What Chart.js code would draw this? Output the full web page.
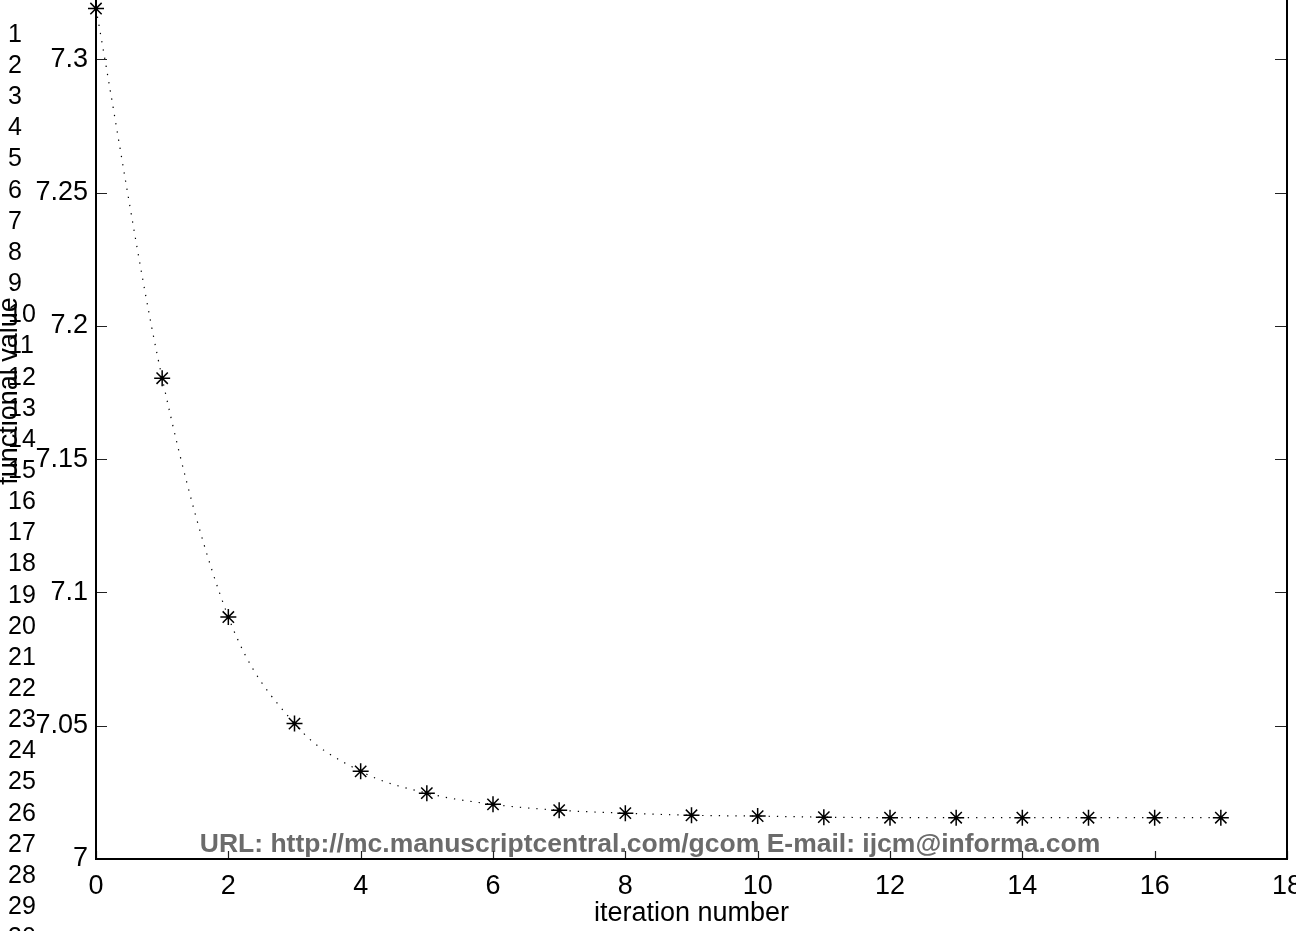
<!DOCTYPE html>
<html>
<head>
<meta charset="utf-8">
<script src="https://cdn.jsdelivr.net/npm/chart.js@4.4.1/dist/chart.umd.min.js"></script>
<style>
  html, body { margin: 0; padding: 0; background: #fff; overflow: hidden; width: 1296px; height: 931px; }
  #wrap { position: absolute; left: 0; top: -98px; }
  canvas { display: block; }
</style>
</head>
<body>
<div id="wrap"><canvas id="c" width="1330" height="1029"></canvas></div>
<script>
// ---- data ----
const iterations = [0, 1, 2, 3, 4, 5, 6, 7, 8, 9, 10, 11, 12, 13, 14, 15, 16, 17];
const functionalValues = [7.3191, 7.1804, 7.0908, 7.0508, 7.0329, 7.0247, 7.0205, 7.0183, 7.0172,
                          7.0164, 7.0161, 7.0157, 7.0155, 7.0155, 7.0155, 7.0155, 7.0155, 7.0155];
const yTickValues = [7, 7.05, 7.1, 7.15, 7.2, 7.25, 7.3];
const yTickLabels = ['7', '7.05', '7.1', '7.15', '7.2', '7.25', '7.3'];
const xTickValues = [0, 2, 4, 6, 8, 10, 12, 14, 16, 18];
const xTickLabels = ['0', '2', '4', '6', '8', '10', '12', '14', '16', '18'];
const xTitle = 'iteration number';
const yTitle = 'functional value';
const watermark = 'URL: http://mc.manuscriptcentral.com/gcom E-mail: ijcm@informa.com';
const lineNumbers = Array.from({length: 30}, (_, i) => String(i + 1));

const FONT = '"Liberation Sans", Arial, Helvetica, sans-serif';
const OFFSET = 98; // canvas is shifted up by this many px

const decorPlugin = {
  id: 'decor',
  beforeDatasetsDraw(chart) {
    const ctx = chart.ctx;
    ctx.save();
    ctx.fillStyle = '#6b6b6b';
    ctx.font = 'bold 26.5px ' + FONT;
    ctx.textAlign = 'center';
    ctx.textBaseline = 'alphabetic';
    ctx.fillText(watermark, 650, 852 + OFFSET);
    ctx.restore();
  },
  afterDraw(chart) {
    const ctx = chart.ctx;
    const a = chart.chartArea;
    const xs = chart.scales.x, ys = chart.scales.y;
    ctx.save();
    // tick marks (inside)
    ctx.strokeStyle = '#222';
    ctx.lineWidth = 1.2;
    ctx.beginPath();
    yTickValues.forEach(v => {
      const py = Math.round(ys.getPixelForValue(v)) + 0.5;
      ctx.moveTo(a.left, py); ctx.lineTo(a.left + 11, py);
      ctx.moveTo(a.right, py); ctx.lineTo(a.right - 12, py);
    });
    xTickValues.forEach(v => {
      const px = Math.round(xs.getPixelForValue(v)) + 0.5;
      ctx.moveTo(px, a.bottom); ctx.lineTo(px, a.bottom - 8);
      ctx.moveTo(px, a.top); ctx.lineTo(px, a.top + 8);
    });
    ctx.stroke();
    // box
    ctx.strokeStyle = '#000';
    ctx.lineWidth = 2;
    ctx.strokeRect(a.left, a.top, a.right - a.left, a.bottom - a.top);

    // axis titles
    ctx.fillStyle = '#000';
    ctx.font = '27px ' + FONT;
    ctx.textAlign = 'center';
    ctx.textBaseline = 'middle';
    ctx.fillText(xTitle, (a.left + a.right) / 2, 914 + OFFSET);
    ctx.save();
    ctx.translate(10, 391 + OFFSET);
    ctx.rotate(-Math.PI / 2);
    ctx.fillText(yTitle, 0, 0);
    ctx.restore();

    // manuscript line numbers
    ctx.font = '25px ' + FONT;
    ctx.textAlign = 'left';
    ctx.textBaseline = 'middle';
    lineNumbers.forEach((t, i) => {
      ctx.fillText(t, 8, 35 + i * 31.15 + OFFSET);
    });
    ctx.restore();
  }
};

new Chart(document.getElementById('c'), {
  type: 'line',
  data: {
    datasets: [{
      data: iterations.map((x, i) => ({x: x, y: functionalValues[i]})),
      borderColor: '#000',
      borderWidth: 1.2,
      borderDash: [1.3, 7],
      cubicInterpolationMode: 'monotone',
      pointStyle: 'star',
      pointRadius: 8,
      pointBorderWidth: 1.5,
      pointBorderColor: '#000',
      pointBackgroundColor: '#000',
      clip: false
    }]
  },
  options: {
    responsive: false,
    devicePixelRatio: 1,
    animation: false,
    events: [],
    layout: { padding: { top: 20, right: 43, left: 0, bottom: 0 } },
    plugins: { legend: { display: false }, tooltip: { enabled: false } },
    scales: {
      x: {
        type: 'linear',
        min: 0, max: 18,
        grid: { display: false, drawTicks: false },
        border: { display: false },
        afterBuildTicks: s => { s.ticks = xTickValues.map(v => ({value: v})); },
        afterFit: s => { s.height = 72; },
        ticks: {
          autoSkip: false,
          maxRotation: 0,
          padding: 11,
          color: '#000',
          font: { family: FONT, size: 27 },
          callback: (v) => xTickLabels[xTickValues.indexOf(v)] ?? ''
        }
      },
      y: {
        min: 7, max: 7.35,
        grid: { display: false, drawTicks: false },
        border: { display: false },
        afterBuildTicks: s => { s.ticks = yTickValues.map(v => ({value: v})); },
        afterFit: s => { s.width = 96; },
        ticks: {
          autoSkip: false,
          padding: 8,
          color: '#000',
          font: { family: FONT, size: 27 },
          callback: (v) => {
            const i = yTickValues.findIndex(t => Math.abs(t - v) < 1e-9);
            return i >= 0 ? yTickLabels[i] : '';
          }
        }
      }
    }
  },
  plugins: [decorPlugin]
});
</script>
</body>
</html>
